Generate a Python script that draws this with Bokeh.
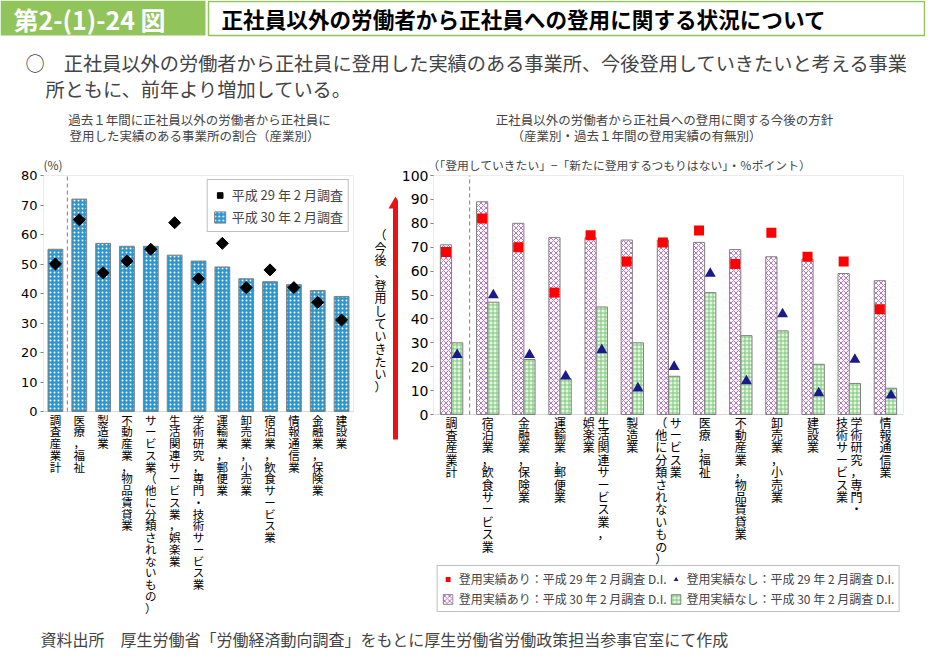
from bokeh.plotting import figure
from bokeh.layouts import column, row
from bokeh.models import (Range1d, FactorRange, Legend, LegendItem, BoxAnnotation,
                          ColumnDataSource, FixedTicker, Label)
from bokeh.transform import dodge
from bokeh.core.properties import value
from bokeh.embed import file_html
from bokeh.resources import INLINE

JP = "Noto Sans CJK JP"
NUM = "DejaVu Sans"

# ---------------- data ----------------
left_categories = ["調査産業計", "医療，福祉", "製造業", "不動産業，物品賃貸業",
                   "サービス業（他に分類されないもの）", "生活関連サービス業，娯楽業",
                   "学術研究，専門・技術サービス業", "運輸業，郵便業", "卸売業，小売業",
                   "宿泊業，飲食サービス業", "情報通信業", "金融業，保険業", "建設業"]
left_h30 = [55, 72, 57, 56, 56, 53, 51, 49, 45, 44, 43, 41, 39]
left_h29 = [50, 65, 47, 51, 55, 64, 45, 57, 42, 48, 42, 37, 31]
left_yticks = [0, 10, 20, 30, 40, 50, 60, 70, 80]

right_categories = ["調査産業計", "宿泊業，飲食サービス業", "金融業，保険業", "運輸業，郵便業",
                    "生活関連サービス業，娯楽業", "製造業", "サービス業（他に分類されないもの）",
                    "医療，福祉", "不動産業，物品賃貸業", "卸売業，小売業", "建設業",
                    "学術研究，専門・技術サービス業", "情報通信業"]
# how each right-hand label is broken into vertical columns (right column first)
right_label_columns = [["調査産業計"], ["宿泊業，飲食サービス業"], ["金融業，保険業"],
                       ["運輸業，郵便業"], ["生活関連サービス業，", "娯楽業"], ["製造業"],
                       ["サービス業", "（他に分類されないもの）"], ["医療，福祉"],
                       ["不動産業，物品賃貸業"], ["卸売業，小売業"], ["建設業"],
                       ["学術研究，専門・", "技術サービス業"], ["情報通信業"]]
right_h30_yes = [71, 89, 80, 74, 74, 73, 73, 72, 69, 66, 65, 59, 56]
right_h30_no = [30, 47, 23, 15, 45, 30, 16, 51, 33, 35, 21, 13, 11]
right_h29_yes = [68, 82, 70, 51, 75, 64, 72, 77, 63, 76, 66, 64, 44]
right_h29_no = [25, 50, 25, 16, 27, 11, 20, 59, 14, 42, 9, 23, 8]
right_yticks = [0, 10, 20, 30, 40, 50, 60, 70, 80, 90, 100]


def stack(cols):
    if len(cols) == 1:
        return "\n".join(cols[0])
    rc, lc = cols
    n = max(len(rc), len(lc))
    lines = []
    for i in range(n):
        l = lc[i] if i < len(lc) else "\u3000"
        r = rc[i] if i < len(rc) else "\u3000"
        lines.append(l + " " + r)
    return "\n".join(lines)


left_labels = ["\n".join(c) for c in left_categories]
right_labels = [stack(c) for c in right_label_columns]

GRAY = "#808080"


def blank_fig(w, h, xr, yr):
    f = figure(frame_width=w, frame_height=h, x_range=xr, y_range=yr, output_backend="svg",
               toolbar_location=None, x_axis_location=None, y_axis_location=None,
               min_border=0, background_fill_color="white", border_fill_color="white")
    f.grid.visible = False
    f.outline_line_color = None
    return f


def chart_fig(fw, fh, cats, ymin, ymax, bl, br):
    # the frame reaches down to the bottom of the figure so the category
    # labels (and legend) can be drawn below the zero line
    p = figure(frame_width=fw, frame_height=fh, x_range=FactorRange(*cats),
               y_range=Range1d(ymin, ymax), output_backend="svg", toolbar_location=None,
               x_axis_location=None, min_border_left=bl, min_border_right=br,
               min_border_top=25, min_border_bottom=0)
    p.grid.visible = False
    p.outline_line_color = None
    return p


def style_y(p, ticks, size, standoff):
    p.yaxis.ticker = FixedTicker(ticks=ticks)
    p.yaxis.major_label_text_font = NUM
    p.yaxis.major_label_text_font_size = size
    p.yaxis.major_label_text_color = "black"
    p.yaxis.axis_line_color = None
    p.yaxis.major_tick_line_color = GRAY
    p.yaxis.major_tick_out = 3
    p.yaxis.major_tick_in = 0
    p.yaxis.minor_tick_line_color = None
    p.yaxis.major_label_standoff = standoff


def style_title(p, text, size, standoff, offset):
    p.title.text = text
    p.title.text_font = JP
    p.title.text_font_size = size
    p.title.text_font_style = "normal"
    p.title.align = "left"
    p.title.standoff = standoff
    p.title.offset = offset


# ---------------- header (coordinates = picture pixels) ----------------
hd = blank_fig(925, 150, Range1d(0, 925), Range1d(150, 0))
hd.quad(left=[0], right=[205], top=[0], bottom=[35], fill_color="#92c45c", line_color=None)
hd.quad(left=[208], right=[924], top=[1], bottom=[35], fill_color="white",
        line_color="#92c45c", line_width=1.5)
hd.add_layout(Label(x=13, y=18, text="第2-(1)-24 図", text_color="white", text_font=JP,
                    text_font_size="25px", text_font_style="bold", text_baseline="middle"))
hd.add_layout(Label(x=221, y=18, text="正社員以外の労働者から正社員への登用に関する状況について",
                    text_color="black", text_font=JP, text_font_size="21.6px",
                    text_font_style="bold", text_baseline="middle"))
hd.add_layout(Label(x=25, y=62, text="○　正社員以外の労働者から正社員に登用した実績のある事業所、今後登用していきたいと考える事業",
                    text_font=JP, text_font_size="19.2px", text_baseline="middle"))
hd.add_layout(Label(x=45, y=88, text="所ともに、前年より増加している。",
                    text_font=JP, text_font_size="19.2px", text_baseline="middle"))
hd.add_layout(Label(x=199, y=119, text="過去１年間に正社員以外の労働者から正社員に",
                    text_font=JP, text_font_size="12.5px", text_baseline="middle", text_align="center"))
hd.add_layout(Label(x=194, y=135, text="登用した実績のある事業所の割合（産業別）",
                    text_font=JP, text_font_size="12.5px", text_baseline="middle", text_align="center"))
hd.add_layout(Label(x=664, y=119, text="正社員以外の労働者から正社員への登用に関する今後の方針",
                    text_font=JP, text_font_size="12.5px", text_baseline="middle", text_align="center"))
hd.add_layout(Label(x=636, y=135, text="（産業別・過去１年間の登用実績の有無別）",
                    text_font=JP, text_font_size="12.5px", text_baseline="middle", text_align="center"))

# ---------------- left chart ----------------
# zero line at 236 px below the top of the frame, 209 px of label space below it
lp = chart_fig(310, 445, left_categories, -80 * 209 / 236, 80, 43, 12)
lsrc = ColumnDataSource(dict(cat=left_categories, label=left_labels, h30=left_h30, h29=left_h29))
bars_l = lp.vbar(x="cat", top="h30", width=0.62, source=lsrc, fill_color="#2a96d2",
                 hatch_pattern="dot", hatch_color="white", hatch_scale=4, hatch_weight=1.5,
                 line_color=GRAY, line_width=1)
dia_l = lp.scatter(x="cat", y="h29", source=lsrc, marker="square", angle=0.785398, size=8.5,
                   fill_color="black", line_color="black")
lp.add_layout(BoxAnnotation(left=0, right=len(left_categories), bottom=0, top=80,
                            fill_alpha=0, line_color=GRAY, line_width=1))
lp.segment(x0=[1], y0=[0], x1=[1], y1=[80], line_color=GRAY, line_dash="4 3", line_width=1)
lp.text(x="cat", y=0, text="label", source=lsrc, text_font=value(JP), text_font_size="11.5px",
        text_align="center", text_baseline="top", text_line_height=0.735, text_color="black",
        y_offset=0)
style_y(lp, left_yticks, "13px", 3)
style_title(lp, "(%)", "12px", 6, 0)
leg_l = Legend(items=[LegendItem(label="平成 29 年 2 月調査", renderers=[dia_l]),
                      LegendItem(label="平成 30 年 2 月調査", renderers=[bars_l])],
               location="top_right", margin=4, border_line_color=GRAY, label_text_font=JP,
               label_text_font_size="13px", glyph_width=14, glyph_height=14,
               label_standoff=5, spacing=3, padding=5, label_height=14,
               background_fill_alpha=1.0)
lp.add_layout(leg_l)

# ---------------- arrow / vertical caption (coordinates = picture pixels) ----------------
af = blank_fig(33, 470, Range1d(365, 398), Range1d(620, 150))
af.segment(x0=[395], y0=[414], x1=[395], y1=[182], line_color="#ee1111", line_width=5)
af.scatter(x=[395], y=[179], marker="triangle", size=14, fill_color="#ee1111", line_color=None)
af.text(x=[380], y=[285], text=["\n".join("（今後、登用していきたい）")], text_font=value(JP),
        text_font_size="12px", text_align="center", text_baseline="middle",
        text_line_height=0.745, text_color="black")

# ---------------- right chart ----------------
# zero line at 239 px below the top of the frame, 206 px of label space below it
rp = chart_fig(470, 445, right_categories, -100 * 206 / 239, 100, 34, 23)
rsrc = ColumnDataSource(dict(cat=right_categories, label=right_labels,
                             h30_yes=right_h30_yes, h30_no=right_h30_no,
                             h29_yes=right_h29_yes, h29_no=right_h29_no))
pink = rp.vbar(x=dodge("cat", -0.155, range=rp.x_range), top="h30_yes", width=0.31, source=rsrc,
               fill_color="white", hatch_pattern="diagonal_cross", hatch_color="#c070c8",
               hatch_scale=5, hatch_weight=1, line_color=GRAY)
green = rp.vbar(x=dodge("cat", 0.155, range=rp.x_range), top="h30_no", width=0.31, source=rsrc,
                fill_color="#e8f6e4", hatch_pattern="cross", hatch_color="#78c878",
                hatch_scale=4, hatch_weight=1, line_color=GRAY)
red = rp.scatter(x=dodge("cat", -0.155, range=rp.x_range), y="h29_yes", source=rsrc,
                 marker="square", size=10, fill_color="#ff0000", line_color=None)
blue = rp.scatter(x=dodge("cat", 0.155, range=rp.x_range), y="h29_no", source=rsrc,
                  marker="triangle", size=11, fill_color="#1a1a8a", line_color=None)
rp.add_layout(BoxAnnotation(left=0, right=len(right_categories), bottom=0, top=100,
                            fill_alpha=0, line_color=GRAY, line_width=1))
rp.segment(x0=[1], y0=[0], x1=[1], y1=[100], line_color=GRAY, line_dash="4 3", line_width=1)
rp.text(x="cat", y=0, text="label", source=rsrc, text_font=value(JP), text_font_size="12px",
        text_align="center", text_baseline="top", text_line_height=0.73, text_color="black",
        y_offset=-1)
style_y(rp, right_yticks, "14px", 2)
style_title(rp, "（「登用していきたい」−「新たに登用するつもりはない」・％ポイント）", "11.8px", 6, -6)
leg_r = Legend(items=[LegendItem(label="登用実績あり：平成 29 年 2 月調査 D.I.", renderers=[red]),
                      LegendItem(label="登用実績なし：平成 29 年 2 月調査 D.I.", renderers=[blue]),
                      LegendItem(label="登用実績あり：平成 30 年 2 月調査 D.I.", renderers=[pink]),
                      LegendItem(label="登用実績なし：平成 30 年 2 月調査 D.I.", renderers=[green])],
               orientation="horizontal", ncols=2, location="bottom_center", border_line_color=GRAY,
               label_text_font=JP, label_text_font_size="12px", glyph_width=12, glyph_height=12,
               label_standoff=5, spacing=3, padding=4, label_height=14,
               margin=8, background_fill_alpha=1.0)
rp.add_layout(leg_r)

# ---------------- footer ----------------
ft = blank_fig(925, 30, Range1d(0, 925), Range1d(650, 620))
ft.add_layout(Label(x=40, y=638, text="資料出所　厚生労働省「労働経済動向調査」をもとに厚生労働省労働政策担当参事官室にて作成",
                    text_font=JP, text_font_size="16px", text_baseline="middle"))

layout = column(hd, row(lp, af, rp, spacing=0), ft, spacing=0)
open("out.html", "w").write(file_html(layout, INLINE))
